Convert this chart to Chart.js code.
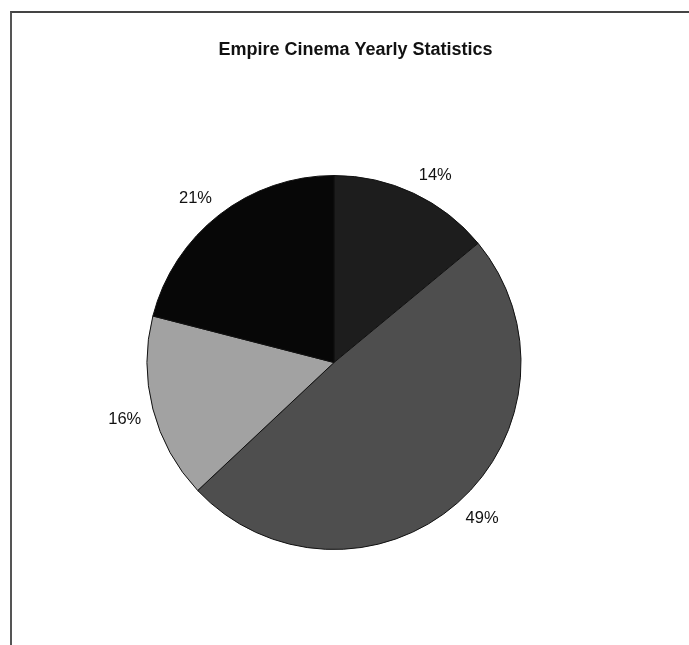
<!DOCTYPE html>
<html>
<head>
<meta charset="utf-8">
<script src="https://cdn.jsdelivr.net/npm/chart.js@4"></script>
<style>
  html, body { margin: 0; padding: 0; background: #fff; }
  #wrap { position: relative; width: 689px; height: 645px; }
  #frame { position: absolute; left: 10px; top: 11px; right: 0; bottom: 0;
           border-top: 2px solid #444; border-left: 2px solid #555; }
  #grafico { position: absolute; left: 0; top: 0; }
</style>
</head>
<body>
<div id="wrap">
  <div id="frame"></div>
  <canvas id="grafico" width="689" height="645"></canvas>
</div>
<script>
// dados do grafico
const categorias = ['A', 'B', 'C', 'D'];
const valores = [14, 49, 16, 21];   // percentuais
const cores = ['#1d1d1d', '#4e4e4e', '#a2a2a2', '#070707'];
const titulo = 'Empire Cinema Yearly Statistics';

// escreve titulo e os rotulos de %
const rotulosPlugin = {
  id: 'rotulos',
  afterDatasetsDraw(chart) {
    const ctx = chart.ctx;
    ctx.save();
    ctx.fillStyle = '#111';
    ctx.textAlign = 'center';
    ctx.textBaseline = 'middle';

    ctx.font = 'bold 18px "Liberation Sans", Arial, sans-serif';
    ctx.fillText(titulo, 355.5, 50);

    ctx.font = '16.5px "Liberation Sans", Arial, sans-serif';
    const total = valores.reduce((a, b) => a + b, 0);
    const meta = chart.getDatasetMeta(0);
    meta.data.forEach(function (arc, i) {
      const p = arc.getProps(['x', 'y', 'startAngle', 'endAngle', 'outerRadius'], true);
      const meio = (p.startAngle + p.endAngle) / 2;
      const r = p.outerRadius + 12;
      const txt = Math.round(valores[i] / total * 100) + '%';
      const w = ctx.measureText(txt).width;
      const h = 14;
      // canto do rotulo mais perto da pizza fica no ponto ancora
      const ax = p.x + Math.cos(meio) * r;
      const ay = p.y + Math.sin(meio) * r;
      const cx = ax + Math.sign(Math.cos(meio)) * w / 2;
      const cy = ay + Math.sign(Math.sin(meio)) * h / 2;
      ctx.fillText(txt, cx, cy);
    });
    ctx.restore();
  }
};

const config = {
  type: 'pie',
  data: {
    labels: categorias,
    datasets: [{
      data: valores,
      backgroundColor: cores,
      borderColor: '#111',
      borderWidth: 1
    }]
  },
  options: {
    responsive: false,
    animation: false,
    layout: { padding: { left: 146.5, top: 175, right: 167.5, bottom: 95 } },
    plugins: {
      legend: { display: false },
      tooltip: { enabled: false },
      title: { display: false }
    }
  },
  plugins: [rotulosPlugin]
};

let chartGeral = new Chart(document.getElementById('grafico'), config);
</script>
</body>
</html>
